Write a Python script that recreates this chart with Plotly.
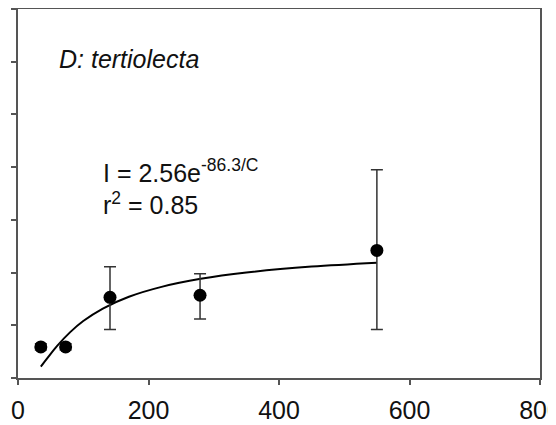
import plotly.graph_objects as go

# Observed data (concentration vs. I)
conc = [35, 73, 141, 279, 550]
val = [0.59, 0.59, 1.53, 1.57, 2.42]
err_plus = [0.06, 0.06, 0.58, 0.41, 1.53]
err_minus = [0.06, 0.06, 0.61, 0.45, 1.50]

# Fitted curve (I = 2.56 e^(-86.3/C))
fit_x = [35, 45, 60, 80, 100, 130, 170, 220, 280, 350, 450, 550]
fit_y = [0.217, 0.376, 0.608, 0.870, 1.080, 1.318, 1.541, 1.729, 1.881, 2.001, 2.113, 2.188]

x_ticks = [0, 200, 400, 600, 800]
y_ticks = [0, 1, 2, 3, 4, 5, 6, 7]

FONT = "Liberation Sans, Arial, sans-serif"

fig = go.Figure()
fig.add_trace(go.Scatter(
    x=fit_x, y=fit_y, mode="lines", line=dict(color="black", width=2, shape="spline"),
    hoverinfo="skip", showlegend=False))
fig.add_trace(go.Scatter(
    x=conc, y=val, mode="markers",
    marker=dict(color="black", size=13),
    error_y=dict(type="data", symmetric=False, array=err_plus, arrayminus=err_minus,
                 color="#333333", thickness=1.5, width=6),
    showlegend=False))

fig.add_annotation(x=59, y=6.06, xref="x", yref="y", text="<i>D: tertiolecta</i>",
                   showarrow=False, xanchor="left", yanchor="middle",
                   font=dict(family=FONT, size=25, color="#111111"))
fig.add_annotation(x=127, y=3.62, xref="x", yref="y",
                   text="I = 2.56e<sup>-86.3/C</sup><br>r<sup>2</sup> = 0.85",
                   showarrow=False, xanchor="left", yanchor="middle", align="left",
                   font=dict(family=FONT, size=25, color="#111111"))

fig.update_xaxes(range=[0, 800], tickvals=x_ticks, ticktext=[str(v) for v in x_ticks],
                 showline=True, linecolor="#555555", linewidth=2, mirror=True,
                 ticks="outside", ticklen=5, tickwidth=1.5, tickcolor="#555555",
                 showgrid=False, zeroline=False, automargin=False,
                 ticklabeloverflow="allow", ticklabelstandoff=4,
                 tickfont=dict(family=FONT, size=25, color="#111111"))
fig.update_yaxes(range=[0, 7], tickvals=y_ticks, showticklabels=False,
                 showline=True, linecolor="#555555", linewidth=2, mirror=True,
                 ticks="outside", ticklen=5, tickwidth=1.5, tickcolor="#555555",
                 showgrid=False, zeroline=False, automargin=False)

# page body adds an 8px offset, so the figure is sized to the visible area
fig.update_layout(width=548, height=417, margin=dict(l=10, r=16, t=1, b=47),
                  plot_bgcolor="white", paper_bgcolor="white")

fig.write_html("out.html")
